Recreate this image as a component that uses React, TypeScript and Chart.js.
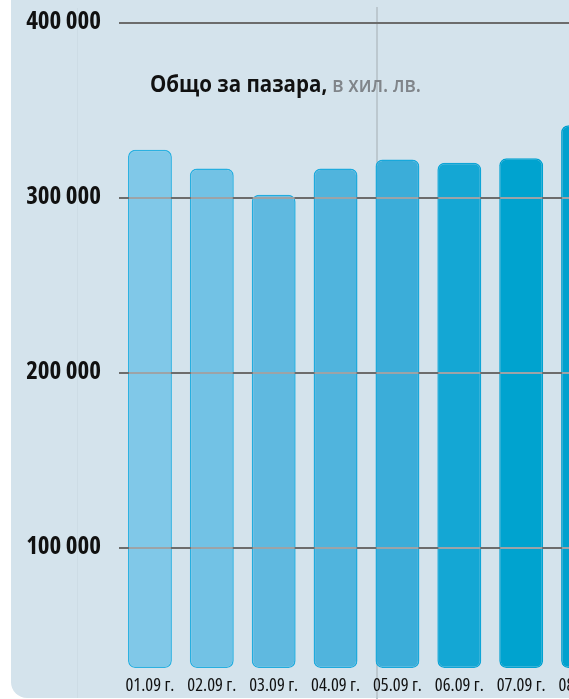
import React, { useEffect, useRef } from "react";
import { Chart, registerables } from "chart.js";

Chart.register(...registerables);

const CATEGORIES = ["01.09 г.", "02.09 г.", "03.09 г.", "04.09 г.", "05.09 г.", "06.09 г.", "07.09 г.", "08.09 г."];
const VALUES = [327000, 316300, 301300, 316300, 321500, 319600, 322100, 341000];
const Y_TICKS = [100000, 200000, 300000, 400000];
const Y_MIN = 30900;
const Y_MAX = 400000;
const BAR_COLORS = ["#80c8e8", "#72c2e5", "#5fb9e0", "#50b4dd", "#3badd9", "#14a7d4", "#00a3cf", "#00a1ce"];
const BAR_BORDERS = ["#2cb1e1", "#27afe0", "#22acde", "#1eaadd", "#18a8db", "#0ea5d7", "#02a2d1", "#00a0ce"];

const FONT = "'Open Sans', 'Noto Sans', sans-serif";

const fmt = (v: number) => String(v).replace(/\B(?=(\d{3})+(?!\d))/g, " ");

const gridPlugin = {
  id: "gridOverlay",
  afterDatasetsDraw(chart: any) {
    const { ctx, chartArea, scales } = chart;
    const y = scales.y;
    const meta = chart.getDatasetMeta(0);
    ctx.save();
    Y_TICKS.forEach((v) => {
      const py = Math.round(y.getPixelForValue(v)) + 1;
      ctx.lineWidth = 2;
      ctx.strokeStyle = "#6c6c6c";
      ctx.beginPath();
      ctx.moveTo(chartArea.left, py);
      ctx.lineTo(chart.width, py);
      ctx.stroke();
      meta.data.forEach((bar: any) => {
        const p = bar.getProps(["x", "y", "base", "width"], true);
        if (p.y < py && p.base > py) {
          ctx.strokeStyle = "#9da3a7";
          ctx.beginPath();
          ctx.moveTo(p.x - p.width / 2 + 1, py);
          ctx.lineTo(p.x + p.width / 2 - 1, py);
          ctx.stroke();
        }
      });
    });
    ctx.restore();
  },
};

export default function App() {
  const ref = useRef<HTMLCanvasElement>(null);
  useEffect(() => {
    if (!ref.current) return;
    const chart = new Chart(ref.current, {
      type: "bar",
      data: {
        labels: CATEGORIES,
        datasets: [
          {
            data: VALUES,
            base: Y_MIN,
            backgroundColor: BAR_COLORS,
            borderColor: BAR_BORDERS,
            borderWidth: 1.5,
            borderRadius: 7,
            borderSkipped: false,
            barPercentage: 0.71,
            categoryPercentage: 1,
          } as any,
        ],
      },
      options: {
        responsive: false,
        animation: false,
        devicePixelRatio: 1,
        layout: { padding: { left: 0, right: 6, top: 22, bottom: 0 } },
        plugins: { legend: { display: false }, tooltip: { enabled: false }, title: { display: false } },
        scales: {
          x: {
            grid: { display: false, drawTicks: false },
            border: { display: false },
            ticks: {
              autoSkip: false,
              maxRotation: 0,
              minRotation: 0,
              padding: 7,
              color: "#111",
              font: { family: FONT, size: 18.5, weight: "normal condensed" as any },
            },
            afterFit: (s: any) => {
              s.height = 31;
              s.paddingLeft = 0;
              s.paddingRight = 0;
            },
          },
          y: {
            min: Y_MIN,
            max: Y_MAX,
            grid: { drawOnChartArea: false, drawTicks: false },
            border: { display: false },
            afterBuildTicks: (s: any) => {
              s.ticks = Y_TICKS.map((v) => ({ value: v }));
            },
            afterFit: (s: any) => {
              s.width = 119;
              s.paddingTop = 0;
              s.paddingBottom = 0;
            },
            ticks: {
              padding: 18,
              color: "#111",
              font: { family: FONT, size: 25, weight: "bold semi-condensed" as any },
              callback: (v: any) => fmt(Number(v)),
            },
          },
        },
      },
      plugins: [gridPlugin],
    });
    return () => chart.destroy();
  }, []);

  return (
    <div style={{ position: "fixed", left: 0, top: 0, width: 569, height: 699, overflow: "hidden", background: "#fff" }}>
      <div
        style={{
          position: "absolute",
          left: 11,
          top: -20,
          width: 640,
          height: 718,
          borderRadius: 16,
          background: "#d4e3ec",
        }}
      />
      <div style={{ position: "absolute", left: 77, top: 8, width: 1, height: 690, background: "#cddce5" }} />
      <div style={{ position: "absolute", left: 376, top: 7, width: 2, height: 692, background: "#bcc8cf" }} />
      <canvas ref={ref} width={620} height={699} style={{ position: "absolute", left: 0, top: 0 }} />
      <div
        style={{
          position: "absolute",
          left: 150,
          top: 71,
          lineHeight: 1,
          whiteSpace: "nowrap",
          fontFamily: FONT,
          transform: "scaleX(0.855)",
          transformOrigin: "left top",
        }}
      >
        <span style={{ fontWeight: "bold", fontSize: 24, color: "#111" }}>Общо за пазара,</span>
        <span style={{ fontWeight: 600, fontSize: 22, color: "#80858a" }}> в хил. лв.</span>
      </div>
    </div>
  );
}
